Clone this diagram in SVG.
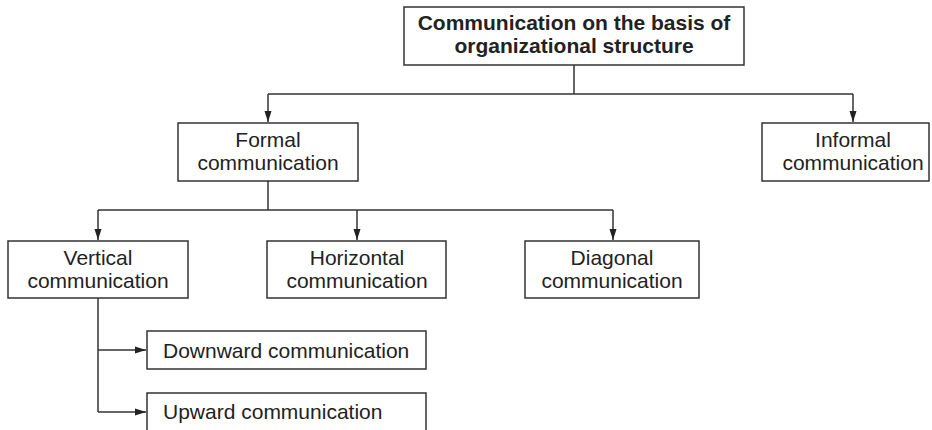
<svg xmlns="http://www.w3.org/2000/svg" width="932" height="430" viewBox="0 0 932 430">
<style>
.box{fill:#fff;stroke:#333;stroke-width:1.5}
.t{font-family:"Liberation Sans",Arial,sans-serif;font-size:21px;fill:#222;text-anchor:middle}
.b{font-weight:bold}
.l{text-anchor:start}
.c{fill:none;stroke:#333;stroke-width:1.5}
</style>
<defs>
<marker id="ah" markerUnits="userSpaceOnUse" markerWidth="12" markerHeight="8" refX="11" refY="4" orient="auto">
<path d="M0,0.5 L11,4 L0,7.5 Z" fill="#222"/>
</marker>
</defs>
<rect width="932" height="430" fill="#fff"/>
<g id="connectors">
<path class="c" d="M574,65 V94"/>
<path class="c" d="M268,94 H853"/>
<path class="c" d="M268,94 V122" marker-end="url(#ah)"/>
<path class="c" d="M853,94 V122" marker-end="url(#ah)"/>
<path class="c" d="M268,181 V210"/>
<path class="c" d="M98,210 H613"/>
<path class="c" d="M98,210 V240" marker-end="url(#ah)"/>
<path class="c" d="M357,210 V240" marker-end="url(#ah)"/>
<path class="c" d="M613,210 V240" marker-end="url(#ah)"/>
<path class="c" d="M98,298 V412"/>
<path class="c" d="M98,350 H146" marker-end="url(#ah)"/>
<path class="c" d="M98,412 H146" marker-end="url(#ah)"/>
</g>
<g id="root">
<rect class="box" x="404" y="7" width="340" height="58"/>
<text class="t b" x="574" y="30">Communication on the basis of</text>
<text class="t b" x="574" y="53">organizational structure</text>
</g>
<g id="formal">
<rect class="box" x="178" y="123" width="180" height="58"/>
<text class="t" x="268" y="147">Formal</text>
<text class="t" x="268" y="170">communication</text>
</g>
<g id="informal">
<rect class="box" x="762" y="123" width="167" height="58"/>
<text class="t" x="853" y="147">Informal</text>
<text class="t" x="853" y="170">communication</text>
</g>
<g id="vertical">
<rect class="box" x="8" y="241" width="180" height="57"/>
<text class="t" x="98" y="265">Vertical</text>
<text class="t" x="98" y="288">communication</text>
</g>
<g id="horizontal">
<rect class="box" x="267" y="241" width="179" height="57"/>
<text class="t" x="357" y="265">Horizontal</text>
<text class="t" x="357" y="288">communication</text>
</g>
<g id="diagonal">
<rect class="box" x="525" y="241" width="174" height="57"/>
<text class="t" x="612" y="265">Diagonal</text>
<text class="t" x="612" y="288">communication</text>
</g>
<g id="downward">
<rect class="box" x="147" y="331" width="279" height="38"/>
<text class="t l" x="163" y="358">Downward communication</text>
</g>
<g id="upward">
<rect class="box" x="147" y="393" width="279" height="40"/>
<text class="t l" x="163" y="419">Upward communication</text>
</g>
</svg>
